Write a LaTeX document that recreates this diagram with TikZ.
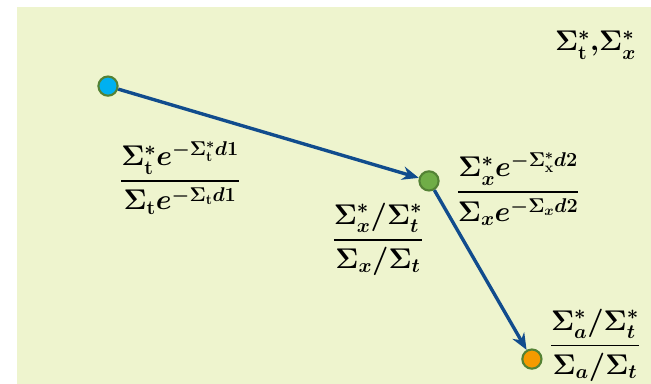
\RequirePackage{fix-cm}
\documentclass[tikz,border=0pt]{standalone}
\usepackage{amsmath,amssymb}
\usepackage{xcolor}
\usetikzlibrary{arrows.meta,positioning}

\definecolor{bgpanel}{RGB}{238,244,206}
\definecolor{flowblue}{RGB}{17,76,141}
\definecolor{ptborder}{RGB}{84,130,53}
\definecolor{ptblue}{RGB}{0,176,240}
\definecolor{ptgreen}{RGB}{112,173,71}
\definecolor{ptorange}{RGB}{245,154,0}
\newcommand{\thkfrac}[2]{\genfrac{}{}{1.8pt}{0}{#1}{#2}}

\begin{document}
\begin{tikzpicture}[>=Stealth,
  pt/.style={circle,draw=ptborder,line width=2pt,inner sep=0pt,minimum size=0.64cm},
  lbl/.style={font=\fontsize{27}{31}\selectfont\boldmath,inner sep=0pt},
  flow/.style={-{Stealth[length=5.5mm,width=4.5mm]},draw=flowblue,line width=3.2pt}]
\useasboundingbox (0,0) rectangle (21.7,12.8);
\fill[bgpanel] (0.57,0) rectangle (21.7,12.57);
% points
\node[pt,fill=ptblue] (src) at (3.6,9.93) {};
\node[pt,fill=ptgreen] (mid) at (14.3,6.77) {};
\node[pt,fill=ptorange] (dst) at (17.73,0.83) {};
\draw[flow] (src)--(mid);
\draw[flow] (mid)--(dst);
% ratios
\node[lbl] (rtop) at (19.85,11.3) {$\Sigma^*_{\mathbf{t}}{,}\Sigma^*_x$};
\node[lbl] (rone) at (6.0,6.87) {$\thkfrac{\Sigma^*_{\mathbf{t}}e^{-\Sigma^*_{\mathbf{t}}d1}}{\Sigma_{\mathbf{t}}e^{-\Sigma_{\mathbf{t}}d1}}$};
\node[lbl] (rtwo) at (17.27,6.5) {$\thkfrac{\Sigma^*_x e^{-\Sigma^*_{\mathbf{x}}d2}}{\Sigma_x e^{-\Sigma_x d2}}$};
\node[lbl] (rmid) at (12.6,4.83) {$\thkfrac{\Sigma^*_x/\Sigma^*_t}{\Sigma_x/\Sigma_t}$};
\node[lbl] (rend) at (19.83,1.3) {$\thkfrac{\Sigma^*_a/\Sigma^*_t}{\Sigma_a/\Sigma_t}$};
\end{tikzpicture}
\end{document}
